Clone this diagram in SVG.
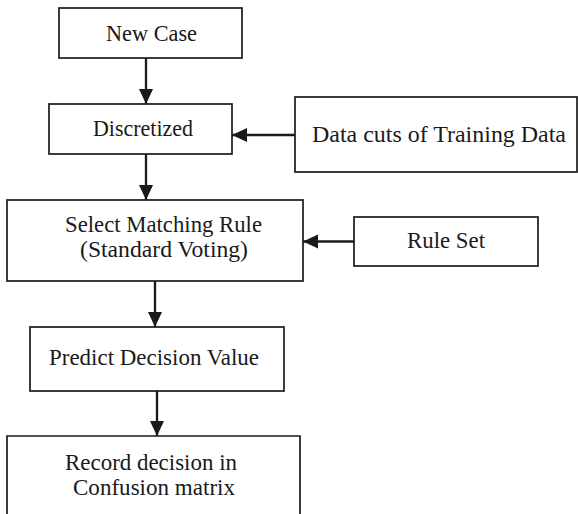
<svg xmlns="http://www.w3.org/2000/svg" width="578" height="514" viewBox="0 0 578 514">
<style>
.box{fill:#fff;stroke:#1a1a1a;stroke-width:1.7}
.lbl{font-family:"Liberation Serif","Times New Roman",serif;font-size:23px;fill:#1a1a1a;text-anchor:middle}
.conn{stroke:#1a1a1a;stroke-width:2.3;fill:none}
</style>
<defs>
<marker id="ah" markerUnits="userSpaceOnUse" markerWidth="16" markerHeight="16" viewBox="0 0 16 16" refX="15" refY="8" orient="auto">
<path d="M0,1 L15,8 L0,15 Z" fill="#1a1a1a"/>
</marker>
</defs>
<rect width="578" height="514" fill="#fff"/>
<g id="connectors">
<line class="conn" x1="146" y1="58" x2="146" y2="104" marker-end="url(#ah)"/>
<line class="conn" x1="295" y1="135" x2="232" y2="135" marker-end="url(#ah)"/>
<line class="conn" x1="146" y1="154" x2="146" y2="200" marker-end="url(#ah)"/>
<line class="conn" x1="354" y1="241.5" x2="303" y2="241.5" marker-end="url(#ah)"/>
<line class="conn" x1="155" y1="281" x2="155" y2="327" marker-end="url(#ah)"/>
<line class="conn" x1="157" y1="391" x2="157" y2="436" marker-end="url(#ah)"/>
</g>
<g id="new-case">
<rect class="box" x="59" y="8" width="183" height="50"/>
<text class="lbl" x="151.5" y="41.3" textLength="91" lengthAdjust="spacingAndGlyphs">New Case</text>
</g>
<g id="discretized">
<rect class="box" x="49" y="104" width="183" height="50"/>
<text class="lbl" x="143" y="135.7" textLength="100" lengthAdjust="spacingAndGlyphs">Discretized</text>
</g>
<g id="data-cuts">
<rect class="box" x="295" y="97" width="282" height="75"/>
<text class="lbl" x="439" y="141.7" textLength="254" lengthAdjust="spacingAndGlyphs">Data cuts of Training Data</text>
</g>
<g id="select-rule">
<rect class="box" x="7" y="200" width="296" height="81"/>
<text class="lbl" x="163.5" y="232.3" textLength="197" lengthAdjust="spacingAndGlyphs">Select Matching Rule</text>
<text class="lbl" x="164" y="256.5" textLength="168" lengthAdjust="spacingAndGlyphs">(Standard Voting)</text>
</g>
<g id="rule-set">
<rect class="box" x="354" y="217" width="184" height="49"/>
<text class="lbl" x="446" y="248" textLength="78" lengthAdjust="spacingAndGlyphs">Rule Set</text>
</g>
<g id="predict">
<rect class="box" x="30" y="327" width="254" height="64"/>
<text class="lbl" x="154" y="365" textLength="210" lengthAdjust="spacingAndGlyphs">Predict Decision Value</text>
</g>
<g id="record">
<path class="box" d="M7,516 V436 H300 V516"/>
<text class="lbl" x="151" y="470" textLength="172" lengthAdjust="spacingAndGlyphs">Record decision in</text>
<text class="lbl" x="154" y="495" textLength="162" lengthAdjust="spacingAndGlyphs">Confusion matrix</text>
</g>
</svg>
